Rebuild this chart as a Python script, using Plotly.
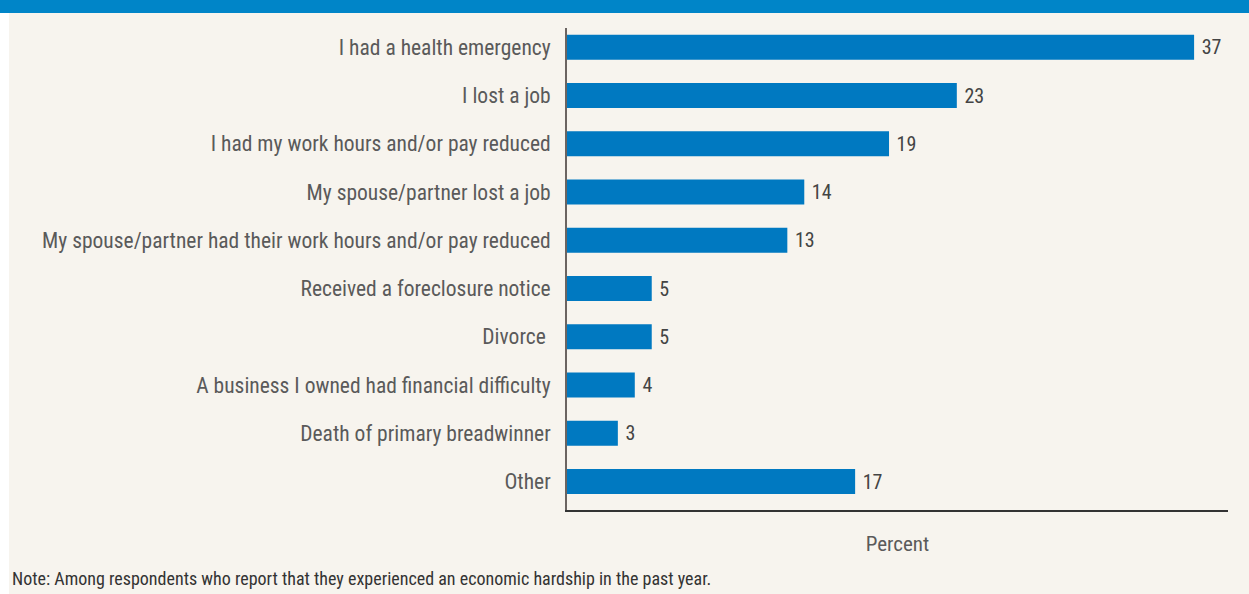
import plotly.graph_objects as go

# hardship categories, top to bottom as shown
categories = [
    'I had a health emergency',
    'I lost a job',
    'I had my work hours and/or pay reduced',
    'My spouse/partner lost a job',
    'My spouse/partner had their work hours and/or pay reduced',
    'Received a foreclosure notice',
    'Divorce ',
    'A business I owned had financial difficulty',
    'Death of primary breadwinner',
    'Other',
]
percents = [37, 23, 19, 14, 13, 5, 5, 4, 3, 17]

note = 'Note: Among respondents who report that they experienced an economic hardship in the past year.'

FONT = 'Liberation Sans Narrow, Roboto Condensed, Arial Narrow, Liberation Sans, sans-serif'
W, H = 1249, 594
L, R, T, B = 567, 21, 28, 84
pw, ph = W - L - R, H - T - B

# plotly puts the first category at the bottom, so reverse
cats = categories[::-1]
vals = percents[::-1]

fig = go.Figure(go.Bar(
    x=vals, y=cats, orientation='h',
    marker=dict(color='#0079C1', line=dict(width=0)),
    width=0.52,
    text=vals, texttemplate=' %{text}', textposition='outside',
    textfont=dict(family=FONT, size=20, color='#444444'),
    cliponaxis=False,
))

fig.update_layout(
    width=W, height=H,
    margin=dict(l=L, r=R, t=T, b=B),
    paper_bgcolor='#F7F4EE', plot_bgcolor='#F7F4EE',
    font=dict(family=FONT, color='#5a5a5a'),
    showlegend=False,
    xaxis=dict(range=[0, 39], showgrid=False, zeroline=False, showticklabels=False,
               ticks='', showline=True, linecolor='#333333', linewidth=2,
               title=dict(text='Percent', font=dict(size=21, color='#5a5a5a'), standoff=25)),
    yaxis=dict(categoryorder='array', categoryarray=cats, range=[-0.59, 9.4],
               showgrid=False, zeroline=False, ticks='', showline=True,
               linecolor='#6b6461', linewidth=2,
               tickfont=dict(size=21.5, color='#5a5a5a'), ticklabelstandoff=10),
    shapes=[
        # white strip at the left edge
        dict(type='rect', xref='paper', yref='paper', layer='below',
             x0=-L / pw, x1=-(L - 9) / pw, y0=-B / ph, y1=1 + T / ph,
             fillcolor='white', line=dict(width=0)),
        # blue band across the top
        dict(type='rect', xref='paper', yref='paper', layer='below',
             x0=-L / pw, x1=1 + R / pw, y0=1 + (T - 13) / ph, y1=1 + T / ph,
             fillcolor='#0085C8', line=dict(width=0)),
    ],
    annotations=[
        dict(text=note, xref='paper', yref='paper', x=-(L - 10) / pw, y=-(578 - T - ph) / ph,
             xanchor='left', yanchor='middle', showarrow=False,
             font=dict(family=FONT, size=18, color='#333333')),
    ],
)

# drop the page's default body margin so the figure sits at the top-left corner
fig.write_html('out.html', config={'displayModeBar': False},
               post_script="document.body.style.margin='0';")
